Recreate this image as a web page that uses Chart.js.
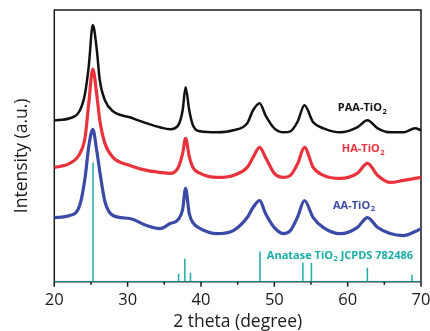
<!DOCTYPE html>
<html>
<head>
<meta charset="utf-8">
<script src="https://cdn.jsdelivr.net/npm/chart.js@4.4.0/dist/chart.umd.min.js"></script>
<style>
  html, body { margin: 0; padding: 0; background: #fff; }
</style>
</head>
<body>
<canvas id="xrdChart" width="430" height="331"></canvas>
<script>
// 2 theta positions
const twoTheta = [20, 22.1, 23.5, 24.2, 24.7, 25.25, 25.8, 26.2, 26.9, 28, 30.3, 32.6, 34.4, 35.8, 36.9, 37.5, 37.9, 38.4, 38.9, 39.9,
  42.2, 44.4, 46.3, 47.1, 48, 48.8, 50, 51.3, 52.2, 53.2, 54.1, 55.3, 56.7, 59, 61.3, 62.7, 64.1, 65.8, 67.6, 69.2, 70];

// Intensities (a.u.), curves are stacked with an offset like the original
const paaIntensity = [161, 163, 171, 188, 215, 256, 231, 201, 181, 170, 164, 158, 154, 152, 156, 171, 194, 171, 156, 150,
  149, 151, 158, 171, 178, 166, 153, 149, 150, 160, 176, 159, 153, 149, 154, 161, 153, 149, 149, 153, 151];
const haIntensity = [114, 118, 128, 144, 178, 212, 186, 161, 138, 124, 116, 111, 109, 108, 114, 128, 143, 125, 114, 108,
  104, 106, 114, 124, 134, 124, 108, 104, 106, 118, 134, 114, 106, 103, 108, 118, 106, 99, 101, 103, 104];
const aaIntensity = [64, 66, 77, 104, 135, 152, 130, 110, 80, 66, 63, 56, 53, 58, 62, 72, 93, 68, 59, 53,
  48, 51, 64, 74, 81, 68, 54, 48, 51, 65, 81, 64, 54, 48, 54, 64, 54, 48, 46, 50, 53];

// Anatase TiO2 reference lines (JCPDS 78-2486)
const stickPositions = [25.28, 36.95, 37.8, 38.57, 48.05, 53.89, 55.06, 62.69, 68.76];
const stickHeights = [119, 8, 23, 9, 30, 19, 19, 14, 7];

const xMajorTicks = [20, 30, 40, 50, 60, 70];
const xMinorTicks = [25, 35, 45, 55, 65];

const FONT = "'Open Sans', 'DejaVu Sans', sans-serif";

// Labels next to each curve (text + subscript)
const curveLabels = [
  { text: 'PAA-TiO', sub: '2', x: 58.66, y: 173, color: '#111111' },
  { text: 'HA-TiO', sub: '2', x: 59.2, y: 132, color: '#e8323c' },
  { text: 'AA-TiO', sub: '2', x: 58.0, y: 76, color: '#3b4aa6' },
  { text: 'Anatase TiO', sub: '2', after: ' JCPDS 782486', x: 48.98, y: 26, color: '#1aaca5' }
];

// Build xy points for each pattern
function toPoints(xs, ys) {
  return xs.map((x, i) => ({ x: x, y: ys[i] }));
}

// Stick pattern as one line: baseline -> up -> down for each reflection
function stickPoints() {
  const pts = [{ x: 20, y: 0 }];
  stickPositions.forEach((p, i) => {
    pts.push({ x: p, y: 0 });
    pts.push({ x: p, y: stickHeights[i] });
    pts.push({ x: p, y: 0 });
  });
  pts.push({ x: 70, y: 0 });
  return pts;
}

// Box frame, tick marks, y title and the curve labels
const framePlugin = {
  id: 'framePlugin',
  beforeDatasetsDraw(chart) {
    const { ctx, chartArea: a, scales } = chart;
    ctx.save();
    ctx.strokeStyle = '#1a1a1a';
    ctx.lineWidth = 1.5;
    ctx.strokeRect(a.left, a.top, a.right - a.left, a.bottom - a.top);
    ctx.beginPath();
    xMajorTicks.forEach(v => {
      const px = scales.x.getPixelForValue(v);
      ctx.moveTo(px, a.bottom);
      ctx.lineTo(px, a.bottom + 5);
    });
    xMinorTicks.forEach(v => {
      const px = scales.x.getPixelForValue(v);
      ctx.moveTo(px, a.bottom);
      ctx.lineTo(px, a.bottom + 3);
    });
    ctx.stroke();

    // y axis title, sits a bit below the middle in the original
    ctx.translate(a.left - 32, (a.top + a.bottom) / 2 + 10);
    ctx.rotate(-Math.PI / 2);
    ctx.fillStyle = '#1a1a1a';
    ctx.font = "17.5px " + FONT;
    ctx.textAlign = 'center';
    ctx.textBaseline = 'middle';
    ctx.fillText('Intensity (a.u.)', 0, 0);
    ctx.restore();
  },
  afterDatasetsDraw(chart) {
    const { ctx, scales } = chart;
    ctx.save();
    ctx.textBaseline = 'middle';
    curveLabels.forEach(l => {
      let px = scales.x.getPixelForValue(l.x);
      const py = scales.y.getPixelForValue(l.y);
      ctx.fillStyle = l.color;
      ctx.font = "bold 11px " + FONT;
      ctx.fillText(l.text, px, py);
      px += ctx.measureText(l.text).width;
      ctx.font = "bold 7.5px " + FONT;
      ctx.fillText(l.sub, px + 0.5, py + 3.5);
      px += ctx.measureText(l.sub).width + 0.5;
      if (l.after) {
        ctx.font = "bold 11px " + FONT;
        ctx.fillText(l.after, px, py);
      }
    });
    ctx.restore();
  }
};

const ctx = document.getElementById('xrdChart').getContext('2d');
new Chart(ctx, {
  type: 'line',
  data: {
    datasets: [
      {
        label: 'PAA-TiO2',
        data: toPoints(twoTheta, paaIntensity),
        borderColor: '#111111',
        borderWidth: 2.5,
        pointRadius: 0,
        cubicInterpolationMode: 'monotone'
      },
      {
        label: 'HA-TiO2',
        data: toPoints(twoTheta, haIntensity),
        borderColor: '#e8323c',
        borderWidth: 3.2,
        pointRadius: 0,
        cubicInterpolationMode: 'monotone'
      },
      {
        label: 'AA-TiO2',
        data: toPoints(twoTheta, aaIntensity),
        borderColor: '#3b4aa6',
        borderWidth: 3.2,
        pointRadius: 0,
        cubicInterpolationMode: 'monotone'
      },
      {
        label: 'Anatase TiO2 JCPDS 782486',
        data: stickPoints(),
        borderColor: '#1aaca5',
        borderWidth: 1.5,
        pointRadius: 0,
        tension: 0
      }
    ]
  },
  options: {
    responsive: false,
    animation: false,
    layout: { padding: { left: 8, right: 0, top: 10, bottom: 0 } },
    plugins: {
      legend: { display: false },
      tooltip: { enabled: false }
    },
    scales: {
      x: {
        type: 'linear',
        min: 20,
        max: 70,
        afterFit: scale => {
          scale.height = 49.3;
          scale.paddingLeft = 0;
          scale.paddingRight = 9;
        },
        grid: { display: false, drawTicks: false },
        border: { display: false },
        ticks: {
          stepSize: 10,
          padding: 9,
          color: '#1a1a1a',
          font: { family: FONT, size: 16.5 }
        },
        title: {
          display: true,
          text: '2 theta (degree)',
          color: '#1a1a1a',
          font: { family: FONT, size: 17.5, lineHeight: 1 },
          padding: { top: 0, bottom: 0 }
        }
      },
      y: {
        min: 0,
        max: 271,
        afterFit: scale => { scale.width = 46.3; },
        grid: { display: false, drawTicks: false },
        border: { display: false },
        ticks: { display: false },
        title: { display: false }
      }
    }
  },
  plugins: [framePlugin]
});
</script>
</body>
</html>
